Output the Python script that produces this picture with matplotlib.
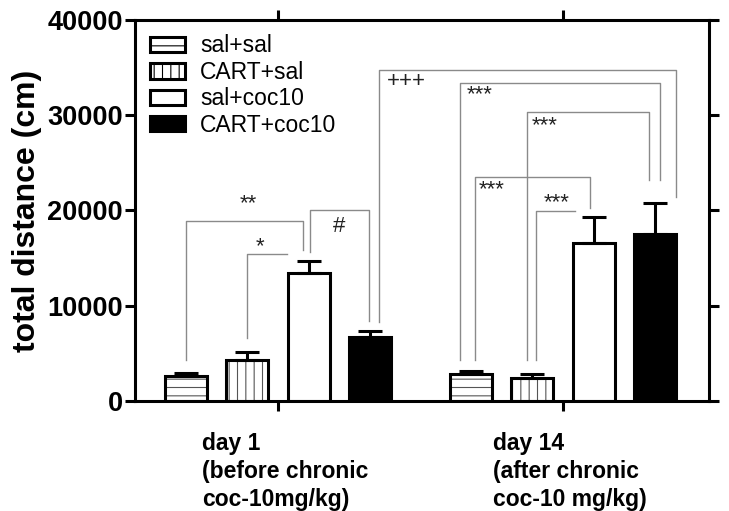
import numpy as np
import matplotlib
matplotlib.use('Agg')
import matplotlib.pyplot as plt
import matplotlib.transforms as mtransforms
from matplotlib.patches import Patch

plt.rcParams['font.family'] = ['Liberation Sans', 'DejaVu Sans']
plt.rcParams['hatch.linewidth'] = 0.8

##### data #####
groups = ['day 1\n(before chronic\ncoc-10mg/kg)', 'day 14\n(after chronic\ncoc-10 mg/kg)']
treatments = ['sal+sal', 'CART+sal', 'sal+coc10', 'CART+coc10']
day1_mean = [2600, 4300, 13450, 6700]
day1_err = [350, 850, 1200, 600]
day14_mean = [2800, 2400, 16600, 17500]
day14_err = [300, 400, 2750, 3250]

# look of each treatment
faces = ['white', 'white', 'white', 'black']
hatches = ['--', '||', '', '']

means = np.array([day1_mean, day14_mean])
errs = np.array([day1_err, day14_err])

fig = plt.figure(figsize=(7.29, 5.11), dpi=100)
ax = fig.add_axes([0.185, 0.2153, 0.7876, 0.7456])

step = 0.215
width = 0.147
centers = np.arange(len(groups))
xpos = []
for g in range(len(groups)):
    for i in range(len(treatments)):
        xpos.append(centers[g] + (i - 1.5) * step)
xpos = np.array(xpos)

for i in range(len(treatments)):
    xs = centers + (i - 1.5) * step
    hs = means[:, i]
    ax.bar(xs, hs, width, color=faces[i], edgecolor='#555555', hatch=hatches[i],
           linewidth=0, zorder=2)
    ax.bar(xs, hs, width, color='none', edgecolor='black', linewidth=2.2, zorder=2.5)
    ax.errorbar(xs, hs, yerr=[np.zeros(len(groups)), errs[:, i]], fmt='none',
                ecolor='black', elinewidth=2.2, capsize=8.5, capthick=2.2, zorder=3)

# significance brackets: left bar, dx, right bar, dx, top, left end, right end, label, label x, align, label y
brackets = [
    (0, 0.0, 2, -0.021, 18900, 4305, 15855, '**', -0.105, 'center', 21210),
    (1, 0.0, 2, -0.077, 15435, 6615, 15435, '*', -0.063, 'center', 16695),
    (2, 0.004, 3, -0.004, 20055, 15645, 8400, '#', 0.214, 'center', 18270),
    (3, 0.032, 7, 0.074, 34755, 8295, 21420, '+++', 0.382, 'left', 33495),
    (4, -0.039, 7, 0.018, 33420, 4305, 23205, '***', 0.663, 'left', 32655),
    (5, -0.018, 7, -0.021, 30375, 4305, 23205, '***', 0.891, 'left', 29400),
    (4, 0.014, 6, -0.012, 23490, 4305, 20265, '***', 0.705, 'left', 22680),
    (5, 0.013, 6, -0.065, 19950, 4305, 19950, '***', 0.979, 'center', 21315),
]
for a, da, b, db, top, ya, yb, lab, lx, ha, ly in brackets:
    x1 = xpos[a] + da
    x2 = xpos[b] + db
    ax.plot([x1, x1, x2, x2], [ya, top, top, yb], color='#8a8a8a', lw=1.0, zorder=1)
    if lab in ('#', '+++'):
        ax.text(lx, ly, lab, ha=ha, va='center', fontsize=16, color='#222222')
    else:
        # asterisks sit high in the font, nudge them down
        ax.text(lx, ly - 500, lab, ha=ha, va='center', fontsize=16, color='#222222')

ax.set_xlim(-0.502, 1.512)
ax.set_ylim(0, 40000)
ax.set_yticks([0, 10000, 20000, 30000, 40000])
ax.set_yticklabels(['0', '10000', '20000', '30000', '40000'], fontsize=19.5, fontweight='bold')
ax.set_xticks(centers)
ax.set_xticklabels(groups, fontsize=16.5, fontweight='bold', ha='center', ma='left',
                   linespacing=1.3)
ax.set_ylabel('total distance (cm)', fontsize=23, fontweight='bold', labelpad=4)

for s in ax.spines.values():
    s.set_linewidth(2.2)
ax.tick_params(axis='both', which='both', direction='out', length=7, width=2.2,
               top=True, right=True, labelright=False, labeltop=False)
ax.tick_params(axis='y', pad=1.5)
ax.tick_params(axis='x', pad=15)
shift = mtransforms.ScaledTranslation(5 / 72, 0, fig.dpi_scale_trans)
for t in ax.get_xticklabels():
    t.set_transform(t.get_transform() + shift)

handles = [Patch(facecolor=faces[i], edgecolor='black', hatch=hatches[i], linewidth=2.2)
           for i in range(len(treatments))]
ax.legend(handles, treatments, loc='upper left', bbox_to_anchor=(0.026, 0.962),
          frameon=False, fontsize=16.5, handlelength=1.55, handleheight=0.66,
          handletextpad=0.65, labelspacing=0.15, borderpad=0, borderaxespad=0)

fig.savefig('out.png', dpi=100)
